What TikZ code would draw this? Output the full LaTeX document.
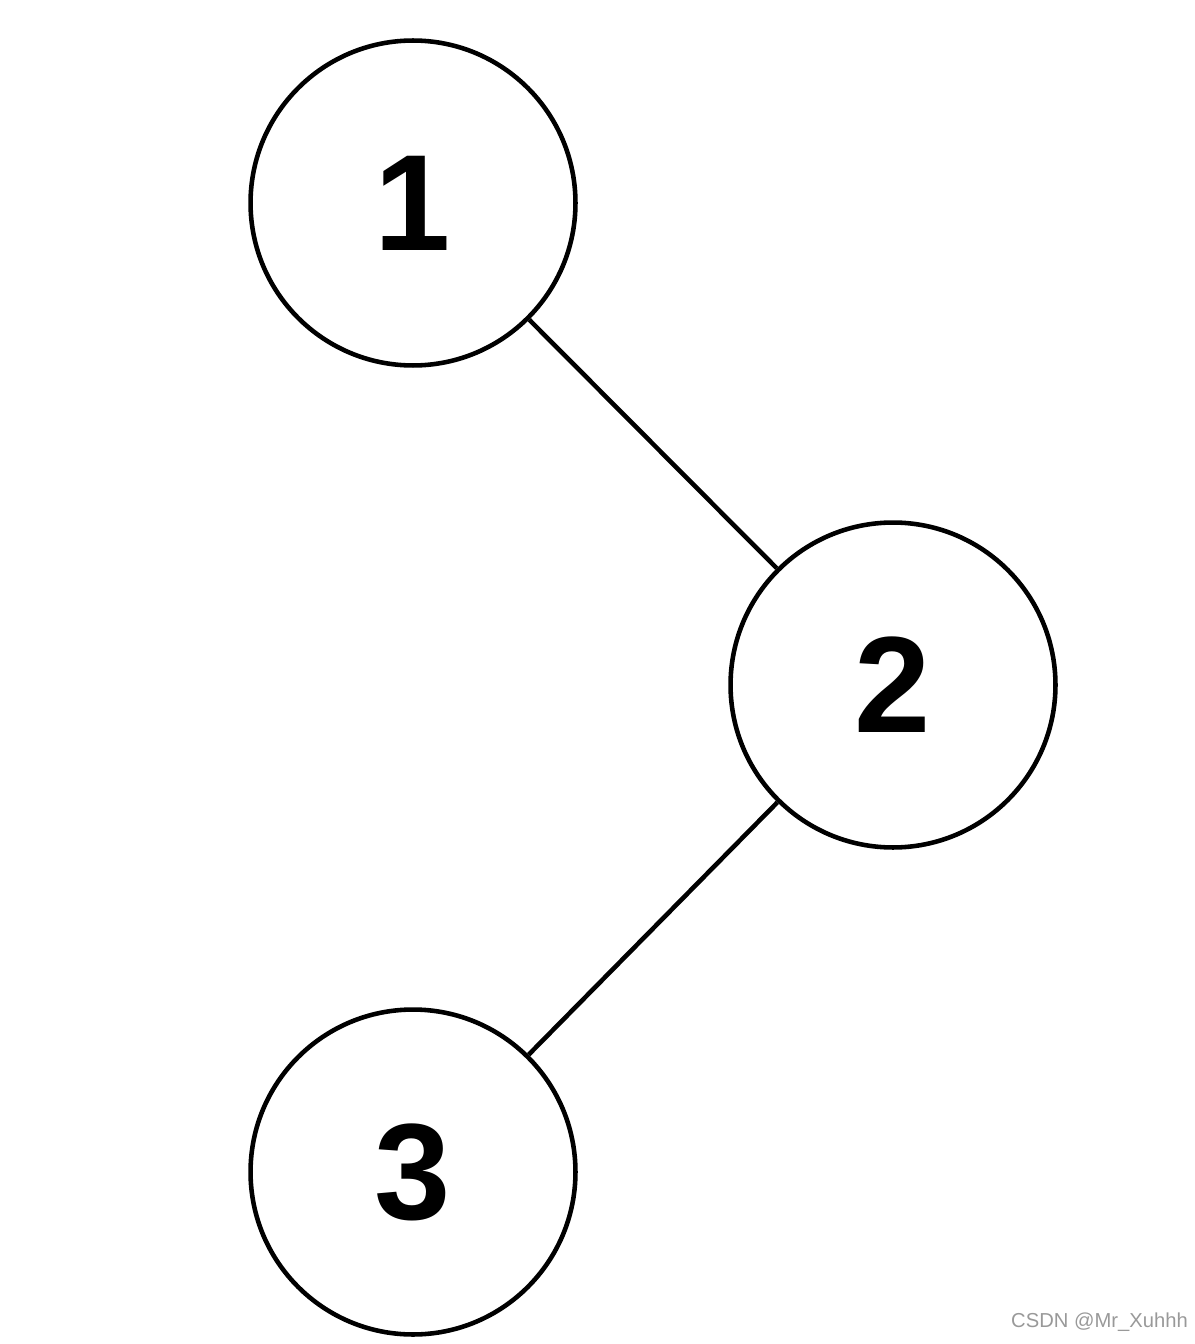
\documentclass[tikz,border=0pt]{standalone}
\usepackage{fontspec}
\setmainfont{Liberation Sans}
\usepackage{tikz}

\begin{document}
\begin{tikzpicture}[x=0.02cm,y=-0.02cm,
  vertex/.style={circle,draw,line width=2.6pt,minimum size=6.5cm,inner sep=0pt,
    font=\fontsize{78}{78}\selectfont\bfseries},
  edge/.style={line width=2.6pt}]
  \useasboundingbox (0,0) rectangle (1194,1344);
  \node[vertex] (n1) at (413,203) {1};
  \node[vertex] (n2) at (893,685) {2};
  \node[vertex] (n3) at (413,1172) {3};
  \draw[edge] (n1)--(n2);
  \draw[edge] (n2)--(n3);
  \node[anchor=south east,text=gray!80,font=\fontsize{11.5}{11.5}\selectfont] (mark) at (1194,1338) {CSDN @Mr\_Xuhhh};
\end{tikzpicture}
\end{document}
